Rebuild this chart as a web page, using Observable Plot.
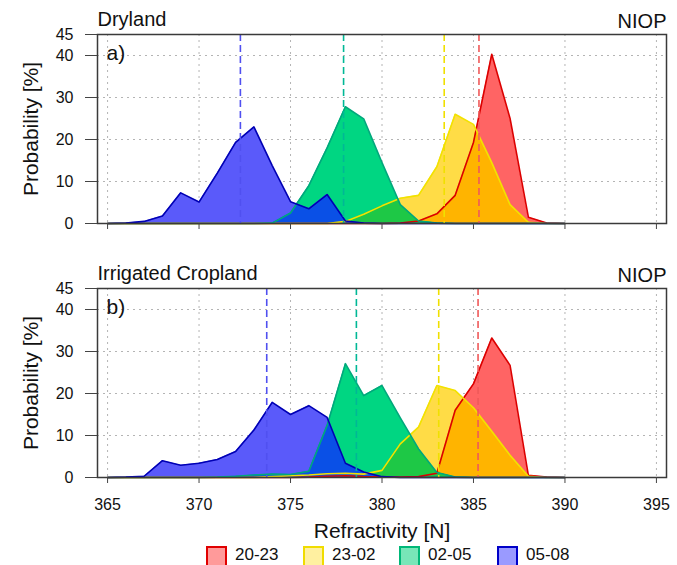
<!DOCTYPE html>
<html><head><meta charset="utf-8">
<script src="https://cdn.jsdelivr.net/npm/d3@7"></script>
<script src="https://cdn.jsdelivr.net/npm/@observablehq/plot@0.6"></script>
<style>
body{margin:0;background:#fff;font-family:"Liberation Sans",Arial,Helvetica,sans-serif;}
#wrap{position:relative;width:677px;height:565px;overflow:hidden;background:#fff;}
#wrap svg{position:absolute;left:0;overflow:visible;}
.box{position:absolute;top:546px;width:17px;height:17px;border:2px solid;}
.lab{position:absolute;top:545px;font-size:17px;line-height:20px;color:#111;}
</style></head><body><div id="wrap"></div>
<script>
// Refractivity bin centres [N]
const refractivity = [365,366,367,368,369,370,371,372,373,374,375,376,377,378,379,380,381,382,383,384,385,386,387,388,389,390];
const xTicks = [365,370,375,380,385,390,395];
const yTicks = [0,10,20,30,40,45];
const yGrid = [10,20,30,40];
const seriesNames = ["20-23","23-02","02-05","05-08"];

// Panel a) Dryland, probability [%]
const dry2023 = [0,0,0,0,0,0,0,0,0,0,0,0,0,0,0,0,0.1,0.6,2.3,6.7,19.3,40.3,25,1.5,0.1,0];
const dry2302 = [0,0,0,0,0,0,0,0,0,0,0,0,0,0.5,2.2,4.2,6,6.7,13.5,26,23.6,14.5,4.5,0.3,0,0];
const dry0205 = [0,0,0,0,0,0,0,0,0,0.1,2.5,9,18,27.8,24.9,14.5,4.5,0.6,0.1,0,0,0,0,0,0,0];
const dry0508 = [0,0.1,0.5,1.8,7.3,5.1,12,19.3,23,13.8,5.2,3.5,6.9,0.6,0.1,0,0,0,0,0,0,0,0,0,0,0];
const dryMeans = [385.3,383.4,377.9,372.26];

// Panel b) Irrigated Cropland, probability [%]
const irr2023 = [0,0,0,0,0,0,0,0,0,0,0,0.1,0.3,0.4,0.2,0.1,0.1,0.2,1.0,16,22.3,33.2,26.7,0.5,0.1,0];
const irr2302 = [0,0,0,0,0,0,0,0,0,0.2,0.4,0.6,0.9,1.0,0.8,1.7,8,12,21.9,20.7,16.6,11,5.3,0.3,0,0];
const irr0205 = [0,0,0,0,0,0,0.1,0.3,0.6,0.8,0.7,1.5,12.4,27.1,19.5,21.9,14.2,6.8,1.2,0.1,0,0,0,0,0,0];
const irr0508 = [0,0.1,0.3,4.0,2.9,3.4,4.3,6.2,11.3,17.9,15,17.1,14.3,3.4,1.3,0.2,0,0,0,0,0,0,0,0,0,0];
const irrMeans = [385.25,383.1,378.6,373.7];

// styles
const fillColors = ["#ff6464","#ffdc46","#00d682","#5a5afa"];
const strokeColors = ["#dc0000","#f2e200","#00a87c","#0000b4"];
const dashColors = ["#f05a5a","#f0e000","#00b896","#5050f0"];
const legendFills = ["#ff9a9a","#fff0a0","#78e6b8","#9a9aff"];
const legendStrokes = ["#e00000","#f0dc00","#00b878","#0000c8"];
const overlapPairs = [[0,1,"#ffb400"],[1,2,"#1ec846"],[0,2,"#1ec846"],[2,3,"#0a50e6"]];

// exact min of two polylines (intersection region of two areas)
function overlap(xs, a, b) {
  const pts = [];
  for (let i = 0; i < xs.length; i++) {
    pts.push({x: xs[i], y: Math.min(a[i], b[i])});
    if (i < xs.length - 1) {
      const d0 = a[i] - b[i], d1 = a[i+1] - b[i+1];
      if (d0 * d1 < 0) {
        const t = d0 / (d0 - d1);
        pts.push({x: xs[i] + t * (xs[i+1] - xs[i]), y: a[i] + t * (a[i+1] - a[i])});
      }
    }
  }
  return pts;
}

function panel(vals, means, title, tag, bottom, top, mt, mb) {
  const marks = [
    Plot.gridX(xTicks, {stroke:"#b4b4b4", strokeOpacity:1, strokeDasharray:"2,4"}),
    Plot.gridY(yGrid, {stroke:"#b4b4b4", strokeOpacity:1, strokeDasharray:"2,4"})
  ];
  vals.forEach((v, i) => marks.push(Plot.areaY(refractivity, {x: d => d, y: (d, j) => v[j], fill: fillColors[i]})));
  overlapPairs.forEach(([i, k, c]) => marks.push(Plot.areaY(overlap(refractivity, vals[i], vals[k]), {x: "x", y: "y", fill: c})));
  vals.forEach((v, i) => marks.push(Plot.line(refractivity, {x: d => d, y: (d, j) => v[j], stroke: strokeColors[i], strokeWidth: 1.6})));
  marks.push(Plot.ruleX(means, {x: d => d, stroke: (d, i) => dashColors[i], strokeWidth: 1.6, strokeDasharray: "7,4"}));
  marks.push(Plot.frame({stroke:"#3a3a3a", strokeWidth:1.5}));
  marks.push(Plot.axisY(yTicks, {tickSize: 12, tickPadding: 12, label: null, stroke:"#444"}));
  marks.push(Plot.axisX(xTicks, {tickSize: 6, tickPadding: 15, label: null, stroke:"#444",
    tickFormat: bottom ? (d => String(d)) : (() => "")}));
  marks.push(Plot.text([title], {text: d => d, frameAnchor: "top-left", textAnchor: "start", lineAnchor: "bottom", dy: -9, fontSize: 20}));
  marks.push(Plot.text(["NIOP"], {text: d => d, frameAnchor: "top-right", textAnchor: "end", lineAnchor: "bottom", dy: -7, fontSize: 20}));
  marks.push(Plot.text([tag], {text: d => d, frameAnchor: "top-left", textAnchor: "start", lineAnchor: "bottom", dx: 9, dy: 25, fontSize: 21}));
  marks.push(Plot.text(["Probability [%]"], {text: d => d, frameAnchor: "left", textAnchor: "middle", lineAnchor: "middle", rotate: -90, dx: -66, fontSize: 21}));
  if (bottom) marks.push(Plot.text(["Refractivity [N]"], {text: d => d, frameAnchor: "bottom", textAnchor: "middle", lineAnchor: "bottom", dy: 60, fontSize: 21}));
  const h = mt + 189 + mb;
  const svg = Plot.plot({
    width: 677, height: h,
    marginTop: mt, marginBottom: mb, marginLeft: 97, marginRight: 11,
    x: {domain: [364.45, 395.55]},
    y: {domain: [0, 45]},
    style: {fontFamily: '"Liberation Sans", Arial, sans-serif', fontSize: "16px", color: "#111", background: "transparent", overflow: "visible"},
    marks
  });
  svg.style.top = top + "px";
  document.getElementById("wrap").appendChild(svg);
}

panel([dry2023, dry2302, dry0205, dry0508], dryMeans, "Dryland", "a)", false, -1, 35, 14);
panel([irr2023, irr2302, irr0205, irr0508], irrMeans, "Irrigated Cropland", "b)", true, 250, 38, 62);

// legend
const wrap = document.getElementById("wrap");
const boxLeft = [206, 303, 399, 497];
seriesNames.forEach((s, i) => {
  const b = document.createElement("div");
  b.className = "box";
  b.style.left = boxLeft[i] + "px";
  b.style.background = legendFills[i];
  b.style.borderColor = legendStrokes[i];
  wrap.appendChild(b);
  const t = document.createElement("div");
  t.className = "lab";
  t.style.left = (boxLeft[i] + 29) + "px";
  t.textContent = s;
  wrap.appendChild(t);
});
</script></body></html>
